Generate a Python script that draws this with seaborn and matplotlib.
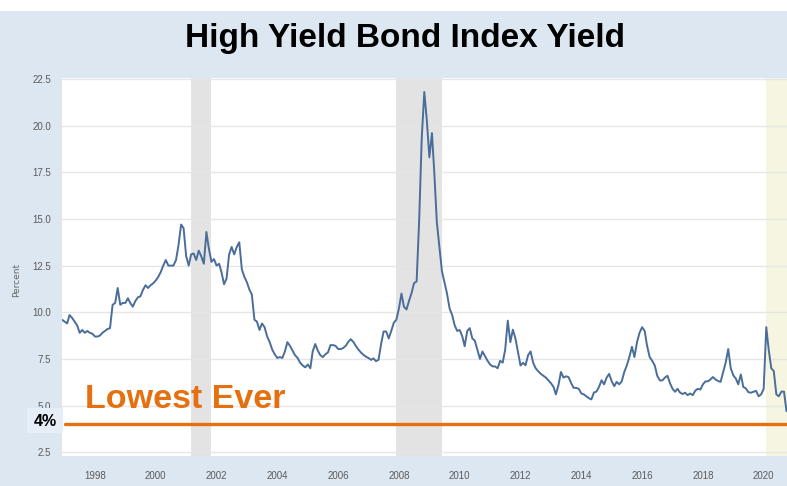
import numpy as np
import pandas as pd
import matplotlib
matplotlib.use("Agg")
import matplotlib.pyplot as plt
import matplotlib.dates as mdates
from matplotlib.patches import Rectangle
import seaborn as sns

# Monthly high-yield index effective yield (percent), Dec 1996 .. Oct 2020
start_month = "1996-12-01"
yield_pct = [
    9.6,
    9.5, 9.4, 9.85, 9.7, 9.5, 9.3, 8.9, 9.05, 8.9, 9.0, 8.9, 8.85,          # 1997
    8.7, 8.7, 8.75, 8.9, 9.0, 9.1, 9.15, 10.4, 10.5, 11.3, 10.4, 10.5,      # 1998
    10.5, 10.75, 10.5, 10.3, 10.6, 10.8, 10.85, 11.2, 11.45, 11.3, 11.45, 11.55,  # 1999
    11.7, 11.9, 12.15, 12.5, 12.8, 12.5, 12.5, 12.5, 12.8, 13.6, 14.7, 14.5,  # 2000
    13.0, 12.5, 13.1, 13.15, 12.8, 13.3, 13.0, 12.6, 14.3, 13.4, 12.7, 12.85,  # 2001
    12.5, 12.6, 12.15, 11.5, 11.8, 13.1, 13.5, 13.1, 13.5, 13.75, 12.3, 11.9,  # 2002
    11.6, 11.2, 10.95, 9.6, 9.5, 9.05, 9.4, 9.2, 8.7, 8.4, 8.0, 7.75,      # 2003
    7.55, 7.6, 7.55, 7.9, 8.4, 8.2, 7.95, 7.7, 7.55, 7.3, 7.15, 7.05,      # 2004
    7.2, 7.0, 7.9, 8.3, 7.95, 7.7, 7.6, 7.75, 7.85, 8.24, 8.24, 8.2,       # 2005
    8.03, 8.03, 8.08, 8.2, 8.4, 8.56, 8.42, 8.2, 8.0, 7.85, 7.72, 7.62,    # 2006
    7.55, 7.45, 7.53, 7.38, 7.45, 8.3, 8.97, 8.97, 8.6, 9.0, 9.44, 9.6,    # 2007
    10.2, 11.0, 10.3, 10.15, 10.6, 11.03, 11.56, 11.65, 15.0, 19.3, 21.8, 20.3,  # 2008
    18.3, 19.6, 17.5, 14.8, 13.5, 12.2, 11.6, 11.0, 10.2, 9.87, 9.3, 9.0,  # 2009
    9.05, 8.7, 8.18, 9.0, 9.15, 8.6, 8.48, 8.0, 7.5, 7.9, 7.65, 7.4,       # 2010
    7.2, 7.1, 7.1, 7.0, 7.4, 7.3, 8.0, 9.55, 8.4, 9.07, 8.6, 7.9,          # 2011
    7.15, 7.29, 7.16, 7.7, 7.9, 7.3, 7.0, 6.84, 6.7, 6.6, 6.5, 6.35,       # 2012
    6.2, 6.0, 5.6, 6.1, 6.8, 6.5, 6.57, 6.52, 6.2, 5.95, 5.95, 5.9,        # 2013
    5.65, 5.6, 5.5, 5.4, 5.33, 5.7, 5.75, 6.0, 6.36, 6.14, 6.5, 6.7,       # 2014
    6.3, 6.04, 6.27, 6.14, 6.3, 6.8, 7.15, 7.6, 8.15, 7.6, 8.4, 8.9,       # 2015
    9.2, 9.0, 8.2, 7.6, 7.4, 7.15, 6.6, 6.35, 6.35, 6.5, 6.6, 6.2,         # 2016
    5.9, 5.74, 5.9, 5.7, 5.62, 5.69, 5.56, 5.65, 5.56, 5.8, 5.9, 5.86,     # 2017
    6.14, 6.3, 6.3, 6.4, 6.53, 6.4, 6.32, 6.27, 6.8, 7.3, 8.03, 7.0,       # 2018
    6.62, 6.44, 6.14, 6.67, 6.0, 5.92, 5.72, 5.69, 5.74, 5.79, 5.5, 5.6,   # 2019
    5.9, 9.2, 8.0, 7.0, 6.85, 5.6, 5.5, 5.75, 5.75, 4.7,                   # 2020
]

# Recession periods (start, end); the last one runs to the end of the axis
recession_starts = ["2001-03-01", "2007-12-01"]
recession_ends = ["2001-11-01", "2009-06-01"]
recent_recession_start = "2020-02-01"

lowest_level = 4.0
lowest_label = "4%"
y_ticks = [2.5, 5.0, 7.5, 10.0, 12.5, 15.0, 17.5, 20.0, 22.5]
x_tick_years = list(range(1998, 2021, 2))

dates = pd.date_range(start_month, periods=len(yield_pct), freq="MS")
df = pd.DataFrame({"date": dates, "yield": yield_pct})

sns.set_style("white")
plt.rcParams["font.family"] = ["Liberation Sans", "DejaVu Sans"]

W, H = 787, 486
bg = "#dde7f1"
fig = plt.figure(figsize=(W / 100, H / 100), dpi=100, facecolor=bg)

# white strip along the top edge
fig.patches.append(Rectangle((0, 1 - 11 / H), 1, 11 / H, transform=fig.transFigure,
                             facecolor="white", edgecolor="none", zorder=0))

ax = fig.add_axes([62 / W, 1 - 456 / H, 1 - 62 / W, (456 - 78) / H])
ax.set_facecolor("white")

x_end = pd.Timestamp("2020-10-07")
for s, e in zip(recession_starts, recession_ends):
    ax.axvspan(pd.Timestamp(s), pd.Timestamp(e), color="#e3e3e3", lw=0, zorder=0)
ax.axvspan(pd.Timestamp(recent_recession_start), x_end, color="#f6f5e1", lw=0, zorder=0)

sns.lineplot(data=df, x="date", y="yield", ax=ax, color="#4a6d9a", linewidth=1.4, zorder=3)

ax.axhline(lowest_level, color="#e5700f", linewidth=2.4, zorder=4, xmin=0.004)

ax.set_xlim(pd.Timestamp(start_month), x_end)
ax.set_ylim(2.3, 22.55)
ax.set_yticks(y_ticks)
ax.set_yticklabels([f"{v:.1f}" for v in y_ticks])
ax.set_xticks([pd.Timestamp(f"{y}-01-01") for y in x_tick_years])
ax.xaxis.set_major_formatter(mdates.DateFormatter("%Y"))
ax.grid(axis="y", color="#e6e6e6", linewidth=1.0, zorder=1)
ax.grid(axis="x", visible=False)
for sp in ax.spines.values():
    sp.set_visible(False)

ax.tick_params(axis="y", length=0, pad=8, labelsize=7, labelcolor="#5a5a5a")
ax.tick_params(axis="x", length=8, width=0.8, color="#c8d3df", pad=3,
               labelsize=7, labelcolor="#5a5a5a")
ax.set_xlabel("")
ax.set_ylabel("")

fig.text(17 / W, 1 - 280 / H, "Percent", rotation=90, ha="center", va="center",
         fontsize=6.5, color="#666666", family=["DejaVu Sans"])

fig.text(405 / W, 1 - 38 / H, "High Yield Bond Index Yield", ha="center", va="center",
         fontsize=24, fontweight="bold", color="black")

fig.text(85 / W, 1 - 408 / H, "Lowest Ever", ha="left", va="baseline",
         fontsize=24.5, fontweight="bold", color="#e5700f", zorder=5)

# label box for the lowest level
fig.patches.append(Rectangle((27 / W, 1 - 433 / H), 36 / W, 25 / H, transform=fig.transFigure,
                             facecolor="#e6eef7", edgecolor="none", zorder=1))
fig.text(45 / W, 1 - 421 / H, lowest_label, ha="center", va="center",
         fontsize=11.5, fontweight="bold", color="black", zorder=5)

fig.savefig("out.png", dpi=100, facecolor=bg)
